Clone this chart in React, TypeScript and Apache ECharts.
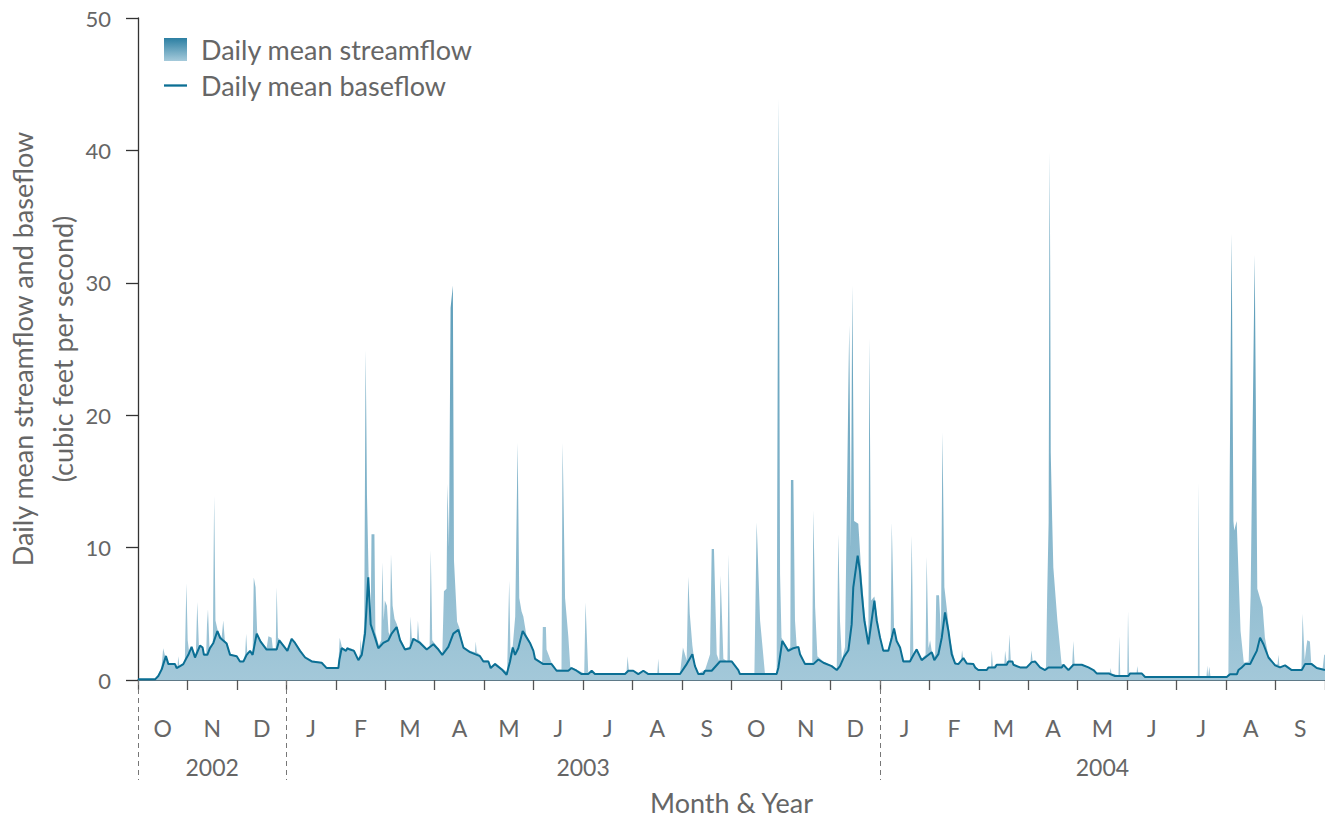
import React, { useEffect, useRef } from "react";
import * as echarts from "echarts";

// x values are days after 1 October 2002 (axis runs to 1 October 2004 = day 731)
const DAY_SPAN = 731;

const monthLabels = ["O", "N", "D", "J", "F", "M", "A", "M", "J", "J", "A", "S", "O", "N", "D", "J", "F", "M", "A", "M", "J", "J", "A", "S"];
const yearLabels = ["2002", "2003", "2004"];
// positions on a half-month grid (0..48) for year label centres and year starts
const yearLabelSlots = [3, 18, 39];
const yearStartSlots = [0, 6, 30];

// Daily mean baseflow, cubic feet per second
const baseflow: [number, number][] = [
  [0, 0.05], [10.5, 0.05], [12.5, 0.3], [14.6, 0.8], [15.6, 1.2], [17.2, 1.8], [18.7, 1.2], [22.8, 1.2], [23.8, 0.9], [25.9, 1.05],
  [27.9, 1.2], [29.6, 1.6], [31, 1.9], [33, 2.5], [35.1, 1.7], [38.2, 2.6], [39.8, 2.45], [40.6, 1.9], [42.7, 1.9], [44.3, 2.4],
  [46.4, 2.8], [48.9, 3.7], [50.5, 3.2], [54.6, 2.75], [56.7, 1.9], [60.8, 1.8], [62.8, 1.4], [64.9, 1.4], [66.9, 1.9], [69, 2.2],
  [70.6, 1.9], [73.1, 3.5], [75.5, 2.9], [79.2, 2.3], [85.4, 2.3], [87, 3.0], [89.5, 2.6], [92, 2.2], [94.6, 3.1], [96.7, 2.8],
  [99.8, 2.2], [102.9, 1.7], [107, 1.4], [113.1, 1.3], [116.2, 0.9], [123.4, 0.9], [124, 1.5], [125.4, 2.4], [128.1, 2.2], [128.9, 2.4],
  [130.6, 2.3], [133, 2.2], [135.7, 1.5], [137.8, 1.9], [139.8, 3.5], [141.8, 7.75], [143.3, 4.2], [146, 3.2], [148, 2.4], [151.1, 2.8],
  [154.2, 3.0], [156.2, 3.5], [159.3, 4.0], [161.4, 3.0], [164.4, 2.3], [167.5, 2.4], [169.6, 3.1], [173.7, 2.8], [177.8, 2.3], [181.9, 2.7],
  [185, 2.3], [187.4, 1.9], [191.1, 2.5], [194.2, 3.5], [197.3, 3.8], [200.4, 2.45], [204.5, 2.1], [210.6, 1.8], [212.7, 1.4], [215.8, 1.4],
  [217.2, 0.9], [219.9, 1.2], [224, 0.8], [227, 0.4], [229.1, 1.4], [230.8, 2.45], [232.2, 1.9], [234.2, 2.4], [236.9, 3.7], [239.4, 3.2],
  [241.4, 2.8], [243.5, 2.2], [244.5, 1.6], [249.6, 1.2], [254.7, 1.2], [257.8, 0.7], [265, 0.7], [267, 0.9], [270.1, 0.7], [273.2, 0.45],
  [277.3, 0.45], [279.4, 0.7], [281.4, 0.45], [299.9, 0.45], [302, 0.7], [305, 0.7], [308.1, 0.45], [311.2, 0.7], [314.3, 0.45], [333.8, 0.45],
  [337.9, 1.2], [341.4, 1.95], [343, 1.05], [345.1, 0.45], [348.2, 0.45], [349.2, 0.7], [353.3, 0.7], [358.4, 1.4], [365.6, 1.4], [369.7, 0.75],
  [370.7, 0.45], [393.3, 0.45], [394.4, 0.95], [396.8, 2.95], [400.5, 2.2], [403.6, 2.4], [406.7, 2.5], [407.7, 1.95], [410.8, 1.2], [415.9, 1.2],
  [419, 1.55], [422.1, 1.3], [427.2, 1.05], [430.3, 0.75], [432.3, 1.05], [434.8, 1.75], [437.5, 2.25], [439.5, 4.2], [440.5, 7.0], [443.2, 9.4],
  [444.6, 8.25], [445.7, 6.6], [447.3, 4.5], [449.8, 2.7], [451.8, 4.5], [453.5, 6.0], [454.9, 4.5], [457, 3.2], [459, 2.2], [462.1, 2.2],
  [464.2, 3.2], [465.6, 3.9], [467.2, 2.95], [469.3, 2.45], [471.3, 1.4], [475.4, 1.4], [477.1, 1.8], [479.5, 2.3], [482.6, 1.5], [485.7, 1.8],
  [488.8, 2.1], [490.4, 1.5], [492.9, 1.95], [495, 3.2], [497, 5.1], [499.1, 3.7], [501.1, 1.95], [503.2, 1.25], [505.2, 1.2], [508.3, 1.65],
  [510.4, 1.25], [514.5, 1.2], [515.5, 0.95], [517.5, 0.75], [522.7, 0.75], [523.7, 0.95], [527.8, 0.95], [528.8, 1.15], [535, 1.15], [536, 1.4],
  [538.5, 1.4], [539.1, 1.15], [543.2, 0.95], [547.3, 0.95], [550.4, 1.35], [552.4, 1.4], [555.5, 0.95], [558.6, 0.75], [560.7, 0.95], [568.9, 0.95],
  [569.9, 1.15], [573, 0.75], [576.1, 1.15], [581.2, 1.15], [585.3, 0.95], [588.4, 0.75], [590.4, 0.5], [597.6, 0.5], [601.7, 0.3], [609.9, 0.3],
  [611, 0.5], [618.1, 0.5], [620.2, 0.23], [670.5, 0.23], [672.5, 0.43], [676.7, 0.43], [677.7, 0.75], [679.7, 0.95], [681.8, 1.2], [684.9, 1.2],
  [686.9, 1.7], [689, 2.2], [691, 3.2], [693.1, 2.7], [696.2, 1.7], [700.3, 1.1], [703.3, 0.95], [706.4, 1.1], [710.5, 0.75], [716.7, 0.75],
  [718.7, 1.2], [722.8, 1.2], [725.9, 0.9], [731, 0.75],
];

// Daily mean streamflow, cubic feet per second
const streamflow: [number, number][] = [
  [0, 0.05], [10.5, 0.05], [12.5, 0.4], [14.5, 1.0], [15.5, 2.4], [16.5, 1.9], [17.5, 1.8], [18.7, 1.3], [23, 1.2], [24.3, 1.0],
  [24.8, 1.8], [25.5, 1.1], [28.8, 1.3], [29.8, 7.3], [30.6, 3.0], [31.5, 2.1], [33, 2.5], [35.6, 1.9], [36.5, 5.9], [37.5, 2.6],
  [40.5, 2.0], [42, 2.0], [42.5, 4.2], [43.1, 5.35], [44, 2.5], [46.1, 2.8], [46.9, 13.9], [47.7, 4.5], [49, 3.8], [51.5, 3.2],
  [52.5, 4.5], [53.5, 3.0], [56.7, 2.0], [60.8, 1.8], [63, 1.4], [65, 1.4], [66, 2.0], [66.6, 3.5], [67.3, 2.1], [70.6, 2.0],
  [71.3, 7.75], [72.4, 7.0], [73.4, 3.6], [75.5, 3.0], [79.2, 2.4], [80.3, 3.3], [82.3, 3.2], [83, 2.4], [84.8, 2.4], [85.4, 7.0],
  [86.2, 3.2], [87.5, 3.0], [89.5, 2.7], [92, 2.3], [94.6, 3.2], [96.7, 2.9], [99.8, 2.3], [103, 1.8], [107, 1.5], [113, 1.35],
  [116.2, 0.95], [123.3, 0.95], [124.2, 3.2], [125.6, 2.5], [128.1, 2.3], [130.6, 2.4], [133, 2.3], [135.7, 1.6], [136.6, 2.0], [137.1, 3.1],
  [137.8, 2.1], [139.3, 4.0], [140.2, 24.9], [141, 14.0], [142, 8.0], [143.3, 4.6], [143.8, 11.0], [145.6, 11.0], [146.2, 3.6], [148.3, 2.6],
  [149.8, 3.0], [150.5, 8.9], [151.3, 4.5], [152, 6.0], [153.3, 5.6], [154.3, 3.6], [155.2, 3.4], [155.8, 9.5], [156.8, 5.6], [158, 4.6],
  [159.5, 4.2], [161.4, 3.2], [164.4, 2.4], [167.3, 2.5], [167.9, 4.8], [168.6, 3.2], [171.8, 3.0], [172.4, 4.5], [173.2, 3.0], [177.8, 2.4],
  [179.6, 2.5], [180.3, 9.8], [181.2, 3.0], [185, 2.4], [187.4, 2.0], [188.4, 6.7], [190, 6.9], [190.6, 14.8], [191.5, 10.0], [192.5, 28.1],
  [193.9, 29.8], [194.6, 9.0], [196.5, 4.4], [198, 3.9], [200.4, 2.5], [204.5, 2.2], [207.5, 2.1], [208, 2.9], [208.6, 2.1], [210.6, 1.9],
  [212.7, 1.5], [215.8, 1.5], [217.2, 1.0], [219.9, 1.3], [224, 0.9], [227.3, 0.6], [228.6, 7.5], [229.4, 2.0], [230.8, 2.6], [232.3, 4.8],
  [233.8, 17.9], [234.8, 6.2], [236.2, 5.2], [237.3, 4.8], [239.3, 3.3], [241.4, 2.9], [243.5, 2.3], [244.5, 1.7], [248.9, 1.3], [249.3, 4.0],
  [251.2, 4.0], [251.6, 2.3], [254.7, 1.3], [257.8, 0.8], [260.8, 0.8], [261.5, 17.9], [263, 6.2], [265, 3.3], [266.2, 1.0], [270.1, 0.8],
  [274.8, 0.5], [275.6, 5.85], [277.3, 0.5], [281.4, 0.5], [300.8, 0.5], [301.5, 1.8], [302.3, 0.75], [305, 0.75], [308.1, 0.5], [311.2, 0.75],
  [314.3, 0.5], [319.8, 0.5], [320.4, 1.6], [321, 0.5], [333.8, 0.5], [335.6, 2.45], [337.9, 1.5], [338.9, 7.8], [339.8, 5.0], [341.4, 2.6],
  [343, 1.1], [345.1, 0.5], [349.2, 0.75], [352.3, 1.95], [353.3, 9.9], [354.7, 9.9], [356.4, 1.95], [358, 1.4], [358.8, 7.9], [360.5, 1.6],
  [363, 1.4], [363.8, 9.5], [364.6, 1.5], [365.6, 1.45], [369.7, 0.8], [370.7, 0.5], [379.6, 0.5], [381, 11.9], [383.1, 4.5], [386.1, 0.5],
  [393.3, 0.5], [394.5, 43.9], [395.4, 8.0], [396.3, 3.2], [400.5, 2.3], [401.7, 2.5], [402.1, 15.1], [403.6, 15.1], [404.6, 4.5], [405.6, 2.6],
  [407.7, 2.0], [410.8, 1.3], [415.2, 1.3], [415.9, 12.8], [417, 5.5], [418.4, 1.8], [422.1, 1.4], [427.2, 1.1], [430.3, 0.8], [431.3, 11.0],
  [432.3, 4.5], [433.5, 1.5], [435.4, 2.5], [438, 26.8], [439, 10.0], [439.9, 29.8], [441, 12.0], [443.6, 11.8], [445.5, 8.0], [447.5, 5.0],
  [449.8, 3.0], [450.4, 25.8], [451.5, 6.0], [453.5, 6.3], [455, 5.0], [457, 3.3], [459, 2.3], [462.1, 2.3], [463.5, 3.2], [464.2, 11.9],
  [465.6, 4.0], [467.2, 3.0], [469.3, 2.5], [471.3, 1.5], [475.4, 1.5], [476.5, 10.9], [477.5, 2.0], [479.5, 2.4], [482.6, 1.6], [485, 1.9],
  [485.7, 9.3], [486.8, 2.4], [487.8, 3.0], [488.8, 2.2], [490.9, 1.8], [491.6, 6.4], [493.3, 6.4], [494.5, 3.5], [495.4, 18.7], [496.6, 7.0],
  [498, 5.5], [500.1, 3.1], [503.2, 1.3], [505.2, 1.25], [506.8, 1.4], [507.5, 2.25], [508.2, 1.65], [510.4, 1.3], [514.5, 1.25], [517.5, 0.8],
  [522.7, 0.8], [525.3, 0.95], [525.8, 2.25], [526.5, 1.0], [528.8, 1.2], [533.5, 1.2], [534, 2.2], [535, 1.3], [536, 1.45], [536.6, 3.45],
  [537.5, 1.5], [539.1, 1.2], [543.2, 1.0], [547.3, 1.0], [549.6, 1.3], [550.2, 2.25], [551, 1.4], [555.5, 1.0], [558.6, 0.8], [559.2, 1.0],
  [559.9, 6.4], [560.8, 11.9], [561.5, 39.9], [562.1, 17.2], [563, 12.0], [563.7, 8.5], [566.2, 4.5], [568.8, 1.2], [573, 0.8], [575.3, 1.15],
  [576, 2.95], [576.8, 1.2], [581.2, 1.2], [585.3, 1.0], [590.4, 0.55], [597.6, 0.55], [598.6, 0.6], [599, 0.9], [599.5, 0.5], [603.8, 0.35],
  [604.3, 3.3], [604.9, 0.35], [609.2, 0.35], [609.7, 5.2], [610.4, 0.5], [615, 0.55], [615.4, 1.05], [616, 0.55], [618.1, 0.55], [620.2, 0.25],
  [652.7, 0.25], [653.2, 14.9], [653.8, 0.25], [658, 0.25], [658.5, 1.1], [659, 0.3], [659.8, 1.0], [660.5, 0.25], [670.5, 0.25], [671.5, 0.5],
  [672.3, 15.1], [673.5, 33.7], [674.6, 12.0], [675.1, 11.3], [676.6, 12.0], [679, 3.7], [681, 1.3], [684, 1.4], [685.2, 6.4], [687.7, 32.1],
  [689.3, 6.9], [692.6, 5.5], [694, 3.2], [696.2, 1.8], [700.3, 1.15], [701.8, 1.2], [702.3, 1.9], [703, 1.0], [706.4, 1.15], [710.5, 0.8],
  [716.5, 0.8], [717.2, 5.0], [718.5, 1.5], [719.5, 2.5], [720.1, 3.0], [721.7, 2.9], [722.5, 1.3], [725.9, 0.95], [729.5, 0.85], [730.5, 1.9],
  [731, 1.9],
];

const FONT = "Lato";
const TEXT = "#666666";

export default function App() {
  const ref = useRef<HTMLDivElement>(null);

  useEffect(() => {
    if (!ref.current) return;
    const chart = echarts.init(ref.current, null, { renderer: "svg" });

    const gridTop = 18;
    const gridBottom = 138;
    const areaGrad = () =>
      new echarts.graphic.LinearGradient(
        0, gridTop, 0, 818 - gridBottom,
        [
          { offset: 0, color: "#2c80a4" },
          { offset: 1, color: "#a3c8d9" },
        ],
        true
      );
    const legendGrad = new echarts.graphic.LinearGradient(0, 0, 0, 1, [
      { offset: 0, color: "#2c7fa2" },
      { offset: 1, color: "#a5cadb" },
    ]);

    const yearAxisData: string[] = Array.from({ length: 49 }, () => "");
    yearLabelSlots.forEach((p, i) => (yearAxisData[p] = yearLabels[i]));

    chart.setOption({
      animation: false,
      textStyle: { fontFamily: FONT },
      grid: {
        left: 138,
        right: 0,
        top: gridTop,
        bottom: gridBottom,
        containLabel: false,
        outerBoundsMode: "none",
      },
      legend: {
        orient: "vertical",
        left: 164,
        top: 36,
        padding: 0,
        itemWidth: 23,
        itemHeight: 23,
        itemGap: 9,
        textStyle: { fontFamily: FONT, fontSize: 27, color: TEXT, padding: [0, 0, 0, 9] },
        data: [
          { name: "Daily mean streamflow", icon: "rect", itemStyle: { color: legendGrad } },
          { name: "Daily mean baseflow", icon: "path://M0,0H24V2.4H0Z", itemStyle: { color: "#0b6f94" } },
        ],
      },
      xAxis: [
        {
          type: "value",
          min: 0,
          max: DAY_SPAN,
          axisLine: { show: true, lineStyle: { color: "#2a4e60", width: 1.5 } },
          axisTick: { show: false },
          axisLabel: { show: false },
          splitLine: { show: false },
          name: "Month & Year",
          nameLocation: "middle",
          nameGap: 109,
          nameMoveOverlap: false,
          nameTextStyle: { fontFamily: FONT, fontSize: 27, color: TEXT },
        },
        {
          type: "category",
          data: monthLabels,
          boundaryGap: true,
          position: "bottom",
          axisLine: { show: false },
          axisTick: { show: true, interval: 0, length: 10, lineStyle: { color: "#555", width: 1.3 } },
          axisLabel: { interval: 0, margin: 36, fontFamily: FONT, fontSize: 23, color: TEXT },
          splitLine: { show: false },
        },
        {
          type: "category",
          data: yearAxisData,
          boundaryGap: false,
          position: "bottom",
          axisLine: { show: false },
          axisTick: {
            show: true,
            interval: (index: number) => yearStartSlots.includes(index),
            length: 100,
            lineStyle: { color: "#777", width: 1, type: [5, 4] },
          },
          axisLabel: {
            interval: (_index: number, value: string) => value !== "",
            margin: 75,
            fontFamily: FONT,
            fontSize: 23,
            color: TEXT,
          },
          splitLine: { show: false },
        },
      ],
      yAxis: {
        type: "value",
        min: 0,
        max: 50,
        interval: 10,
        axisLine: { show: true, lineStyle: { color: "#333", width: 1.3 } },
        axisTick: { show: true, length: 12, lineStyle: { color: "#333", width: 1.3 } },
        axisLabel: { margin: 27, fontFamily: FONT, fontSize: 22, color: TEXT },
        splitLine: { show: false },
        name: "Daily mean streamflow and baseflow\n(cubic feet per second)",
        nameLocation: "middle",
        nameGap: 56,
        nameMoveOverlap: false,
        nameRotate: 90,
        nameTextStyle: { fontFamily: FONT, fontSize: 27, lineHeight: 40, color: TEXT },
      },
      series: [
        {
          name: "Daily mean streamflow",
          type: "line",
          xAxisIndex: 0,
          yAxisIndex: 0,
          data: streamflow,
          symbol: "none",
          showSymbol: false,
          lineStyle: { width: 0 },
          itemStyle: { color: legendGrad },
          areaStyle: { color: areaGrad(), opacity: 1 },
          z: 1,
        },
        {
          name: "Daily mean baseflow",
          type: "line",
          xAxisIndex: 0,
          yAxisIndex: 0,
          data: baseflow,
          symbol: "none",
          showSymbol: false,
          lineStyle: { width: 2, color: "#0b6f94" },
          itemStyle: { color: "#0b6f94" },
          areaStyle: { color: areaGrad(), opacity: 1 },
          z: 2,
        },
      ],
    });

    return () => chart.dispose();
  }, []);

  return (
    <div
      ref={ref}
      style={{ position: "absolute", left: 0, top: 0, width: 1325, height: 818 }}
    />
  );
}
